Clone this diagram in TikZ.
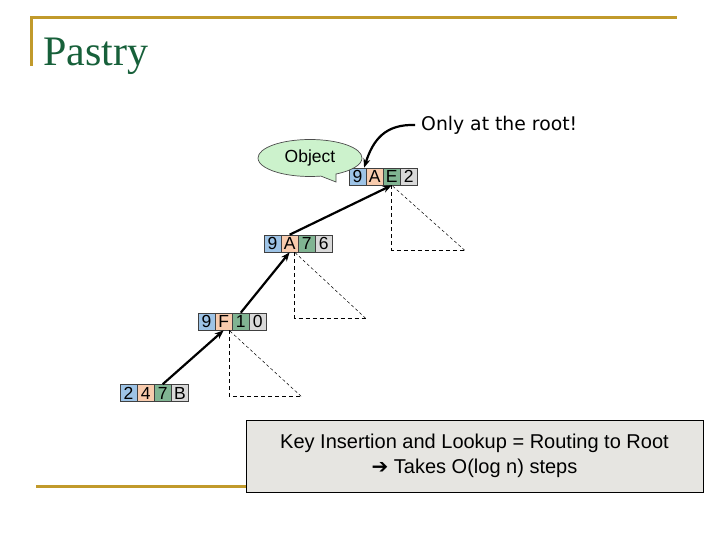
\documentclass[tikz,border=0pt]{standalone}
\usepackage{fontspec}
\setmainfont{Liberation Sans}
\newfontfamily\titlefont{Liberation Serif}
\newfontfamily\dejavu{DejaVu Sans}
\usetikzlibrary{shapes.callouts,arrows.meta}
\definecolor{gold}{HTML}{C19A2B}
\definecolor{titlegreen}{HTML}{17603A}
\definecolor{cblue}{HTML}{9DC3E6}
\definecolor{cpeach}{HTML}{F8CBAD}
\definecolor{cgreen}{HTML}{80B492}
\definecolor{cgray}{HTML}{D9D9D9}
\definecolor{boxgray}{HTML}{E6E5E1}
\definecolor{calloutgreen}{HTML}{CCF2CC}
\newcommand\drawkey[7]{%
  \node[cell, fill=cblue] (#1a) at (#2,#3) {#4};
  \node[cell, fill=cpeach] (#1b) at (#1a.east) {#5};
  \node[cell, fill=cgreen] (#1c) at (#1b.east) {#6};
  \node[cell, fill=cgray] (#1d) at (#1c.east) {#7};
}
\begin{document}
\begin{tikzpicture}[x=1pt,y=-1pt,
  cell/.style={draw=black!75, line width=0.6pt, minimum width=16.5pt, minimum height=17pt,
    inner sep=0pt, anchor=west, font=\fontsize{17.5}{17.5}\selectfont},
  goldline/.style={draw=gold, line width=3pt},
  route/.style={line width=2.2pt, -{Stealth[length=9pt,width=7pt]}},
  tri/.style={line width=0.7pt, dash pattern=on 4pt off 3pt},
  trid/.style={line width=0.5pt, dash pattern=on 3pt off 2.5pt}]
\useasboundingbox (0,0) rectangle (720,540);
% title decoration
\draw[goldline] (30,18) -- (677,18);
\draw[goldline] (31,18) -- (31,66);
\node[anchor=base west, inner sep=0pt, text=titlegreen, font=\titlefont\fontsize{42}{42}\selectfont] (title) at (43,66) {Pastry};
\draw[goldline] (36,486) -- (250,486);
% keys
\drawkey{r}{349}{176.5}{9}{A}{E}{2}
\drawkey{s}{264}{243.5}{9}{A}{7}{6}
\drawkey{t}{198}{321.5}{9}{F}{1}{0}
\drawkey{u}{120}{393}{2}{4}{7}{B}
% dashed triangles
\draw[tri] (rc.south) -- ++(0,65) coordinate (r1) -- ++(73,0) coordinate (r2);
\draw[trid] (r2) -- (rc.south);
\draw[tri] ([xshift=5pt]sb.south) coordinate (s0) -- ++(0,66) -- ++(71,0) coordinate (s2);
\draw[trid] (s2) -- (s0);
\draw[tri] ([xshift=5.5pt]tb.south) coordinate (t0) -- ++(0,66) -- ++(72,0) coordinate (t2);
\draw[trid] (t2) -- (t0);
% routing arrows
\draw[route] (uc.north) -- (tb.south);
\draw[route] (tc.north) -- (sb.south);
\draw[route] (sb.north) -- (rc.south);
% callout
\node[ellipse callout, draw=black!70, line width=0.7pt, fill=calloutgreen, minimum width=104pt, minimum height=37pt,
  inner sep=0pt, callout absolute pointer={(336,182)}, callout pointer arc=18,
  font=\fontsize{17.5}{17.5}\selectfont] (obj) at (310,158) {Object};
% root note
\node[anchor=west, inner sep=0pt, font=\dejavu\fontsize{18.8}{18.8}\selectfont] (root) at (421,125) {Only at the root!};
\draw[route] ([xshift=-6pt]root.west) .. controls (385,124) and (373,140) .. ([xshift=-2pt]ra.north east);
% summary box
\node[draw=black, line width=0.8pt, fill=boxgray, minimum width=457pt, minimum height=72pt, inner sep=0pt,
  align=center, font=\fontsize{20}{25}\selectfont] (box) at (474.5,456)
  {Key Insertion and Lookup = Routing to Root\\{\dejavu ➔} Takes O(log n) steps};
\end{tikzpicture}
\end{document}
